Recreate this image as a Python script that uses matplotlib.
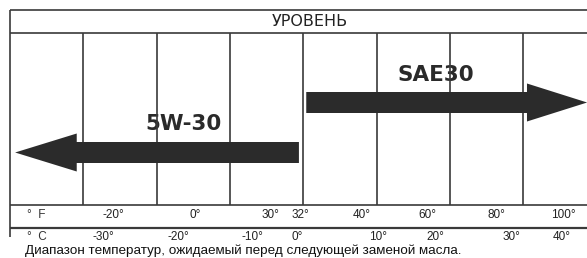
import matplotlib
matplotlib.use("Agg")
import matplotlib.pyplot as plt
from matplotlib.patches import Polygon

# ---- data ----
header_title = "УРОВЕНЬ"
caption = "Диапазон температур, ожидаемый перед следующей заменой масла."
unit_f = "°  F"
unit_c = "°  C"
f_labels = ["-20°", "0°", "30°", "32°", "40°", "60°", "80°", "100°"]
c_labels = ["-30°", "-20°", "-10°", "0°", "10°", "20°", "30°", "40°"]
oil_grades = ["5W-30", "SAE30"]
# arrow extents in grid-column units: (tail, head base, tip)
grade_tail = [3.94, 4.04]
grade_headbase = [0.91, 7.05]
grade_tip = [0.07, 7.87]

# ---- layout (pixel-like vertical units, column horizontal units) ----
COL = 73.33
f_pos = [1.41, 2.52, 3.55, 3.96, 4.80, 5.69, 6.63, 7.55]
c_pos = [1.28, 2.29, 3.30, 3.91, 5.02, 5.80, 6.84, 7.52]
grade_y = [152.5, 102.5]
label_xy = [(2.36, 123.5), (5.80, 75.0)]
shaft_half = 10.5
head_half = 19.0

LINE = "#3a3a3a"
FILL = "#2b2b2b"

fig = plt.figure(figsize=(5.87, 2.58), dpi=100)
ax = fig.add_axes([0, 0, 1, 1])
ax.set_xlim(-10 / COL, 577 / COL)
ax.set_ylim(258, 0)
ax.axis("off")

right = 9.0
# horizontal rules
ax.plot([0, right], [10, 10], color=LINE, lw=1.2, zorder=2, solid_capstyle="butt")
ax.plot([0, right], [33, 33], color=LINE, lw=1.2, zorder=2, solid_capstyle="butt")
ax.plot([0, right], [204.5, 204.5], color=LINE, lw=1.2, zorder=2, solid_capstyle="butt")
ax.plot([0, right], [228, 228], color=LINE, lw=1.6, zorder=2, solid_capstyle="butt")
# left border
ax.plot([0, 0], [10, 237], color=LINE, lw=1.2, zorder=2, solid_capstyle="butt")
# vertical grid lines
for i in range(1, 9):
    ax.plot([i, i], [33, 204.5], color=LINE, lw=1.2, zorder=2, solid_capstyle="butt")

# header
ax.text(300 / COL, 22, header_title, ha="center", va="center", fontsize=11.5,
        family="DejaVu Sans", color="#222222", zorder=1)

# arrows
for name, tail, hb, tip, yc, (lx, ly) in zip(oil_grades, grade_tail, grade_headbase,
                                             grade_tip, grade_y, label_xy):
    pts = [(tail, yc - shaft_half), (hb, yc - shaft_half), (hb, yc - head_half),
           (tip, yc), (hb, yc + head_half), (hb, yc + shaft_half), (tail, yc + shaft_half)]
    ax.add_patch(Polygon(pts, closed=True, facecolor=FILL, edgecolor="none", zorder=3))
    ax.text(lx, ly, name, ha="center", va="center", fontsize=15.5, fontweight="bold",
            family="DejaVu Sans", color="#2a2a2a", zorder=1)

# temperature rows
ax.text(17 / COL, 215.5, unit_f, ha="left", va="center", fontsize=8.5,
        family="Liberation Sans", color="#333333", zorder=1)
ax.text(17 / COL, 237, unit_c, ha="left", va="center", fontsize=8.5,
        family="Liberation Sans", color="#333333", zorder=1)
for lab, x in zip(f_labels, f_pos):
    ax.text(x, 215.5, lab, ha="center", va="center", fontsize=8.5,
            family="Liberation Sans", color="#222222", zorder=1)
for lab, x in zip(c_labels, c_pos):
    ax.text(x, 237, lab, ha="center", va="center", fontsize=8.5,
            family="Liberation Sans", color="#222222", zorder=1)

ax.text(15 / COL, 250.5, caption, ha="left", va="center", fontsize=9.7,
        family="Liberation Sans", color="#111111", zorder=1)

fig.savefig("out.png", dpi=100)
